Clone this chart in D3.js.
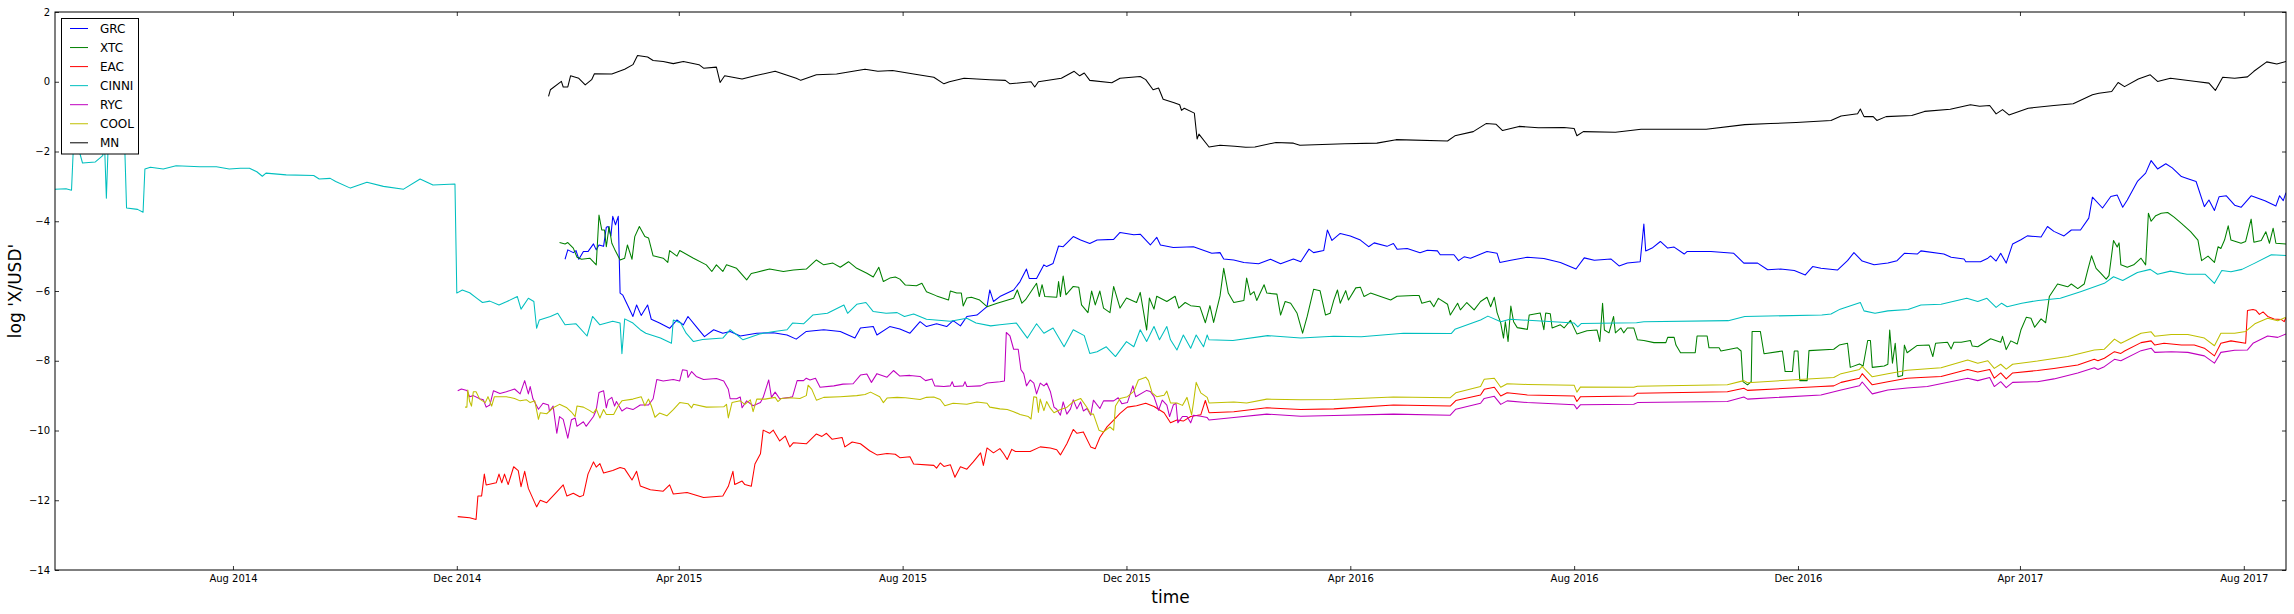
<!DOCTYPE html>
<html><head><meta charset="utf-8">
<script src="https://cdn.jsdelivr.net/npm/d3@7"></script>
<style>
body{margin:0;background:#fff}
svg{display:block}
text{font-family:"DejaVu Sans",sans-serif;fill:#000}
</style>
</head><body>
<svg id="chart" width="2294" height="614"></svg>
<script>
// ---- data: [days since baseDate, log value] ----
const baseDate = "2014-08-01";
const seriesNames = ["GRC","XTC","EAC","CINNI","RYC","COOL","MN"];
const seriesColors = ["#0000ff","#008000","#ff0000","#00bfbf","#bf00bf","#bfbf00","#000000"];
const yTicks = [2,0,-2,-4,-6,-8,-10,-12,-14];
const xTickLabels = ["Aug 2014","Dec 2014","Apr 2015","Aug 2015","Dec 2015","Apr 2016","Aug 2016","Dec 2016","Apr 2017","Aug 2017"];

const grc = [[181,-5.09],[182.5,-4.82],[185.5,-4.9],[187,-4.84],[188.5,-5.09],[191,-4.87],[193.5,-4.87],[196.5,-4.65],[198,-4.82],[199.5,-4.68],[202,-4.72],[203.5,-4.17],[204.5,-4.15],[206,-4.42],[207,-3.86],[208.5,-4.1],[210,-3.86],[211,-6.06],[212.5,-6.12],[215.5,-6.45],[218,-6.73],[220,-6.4],[222.5,-6.7],[226,-6.4],[228,-6.81],[232.5,-6.92],[238,-7.07],[242,-6.83],[245.5,-6.97],[248,-6.73],[252.5,-7.02],[257,-7.31],[262,-7.11],[267,-7.21],[271,-7.16],[276.5,-7.29],[285.5,-7.21],[294.5,-7.2],[302,-7.26],[307,-7.38],[312.5,-7.16],[322,-7.11],[331,-7.16],[339,-7.35],[342,-7.06],[349,-7.02],[351,-7.26],[358,-7.02],[363.5,-7.09],[369,-7.21],[374.5,-6.88],[378,-7.02],[383.5,-6.94],[389,-7.02],[392.5,-6.85],[396.5,-7.0],[400,-6.73],[405.5,-6.69],[411,-6.45],[412.5,-5.97],[414.5,-6.3],[418,-6.16],[425.5,-5.97],[429,-5.73],[432.5,-5.37],[434,-5.64],[438,-5.64],[442,-5.25],[443.5,-5.3],[447,-5.21],[450,-4.71],[452.5,-4.73],[458,-4.44],[462,-4.54],[467,-4.64],[471,-4.54],[480,-4.52],[483.5,-4.32],[491,-4.39],[494.5,-4.37],[500,-4.68],[503.5,-4.46],[505.5,-4.68],[512.5,-4.75],[523.5,-4.73],[533.5,-4.92],[538,-4.9],[540,-5.08],[545.5,-5.11],[551,-5.18],[559,-5.22],[565.5,-5.09],[571,-5.22],[578,-5.08],[582,-5.16],[586.5,-4.80],[589,-4.9],[594.5,-4.84],[596.5,-4.25],[599,-4.55],[603.5,-4.35],[609,-4.42],[614.5,-4.54],[619,-4.73],[622,-4.62],[629,-4.72],[632.5,-4.64],[634.5,-4.80],[640,-4.78],[647,-4.9],[651,-4.83],[656.5,-4.85],[658,-4.96],[665.5,-4.96],[668,-5.13],[671,-5.02],[674.5,-5.06],[683.5,-4.87],[689,-4.92],[690.5,-5.18],[696.5,-5.12],[705.5,-5.03],[714.5,-5.07],[723.5,-5.18],[732,-5.37],[736.5,-5.05],[742,-5.12],[751,-5.08],[755.5,-5.28],[760,-5.2],[767,-5.16],[769,-4.08],[770,-4.85],[773.5,-4.77],[778,-4.58],[782,-4.77],[785.5,-4.74],[791,-4.94],[792.5,-4.87],[805.5,-4.87],[818,-4.92],[823.5,-5.2],[831,-5.2],[836.5,-5.39],[843.5,-5.37],[851,-5.41],[857,-5.54],[861,-5.3],[865.5,-5.35],[874.5,-5.4],[880,-5.13],[883.5,-4.9],[888,-5.14],[894.5,-5.25],[902,-5.2],[907,-5.13],[911,-4.92],[918,-4.94],[920,-4.85],[932.5,-4.94],[936.5,-5.03],[943.5,-5.08],[944.5,-5.16],[952.5,-5.16],[956.5,-5.06],[958,-4.99],[961,-5.14],[963.5,-4.92],[966.5,-5.2],[970,-4.65],[974.5,-4.53],[978,-4.42],[985.5,-4.45],[989,-4.15],[992.5,-4.29],[998,-4.42],[1002,-4.25],[1007,-4.25],[1011.5,-3.91],[1013.5,-3.31],[1019,-3.62],[1023.5,-3.29],[1027,-3.25],[1030,-3.6],[1032.5,-3.39],[1038,-2.86],[1042.5,-2.62],[1045.5,-2.26],[1049,-2.5],[1053.5,-2.35],[1057,-2.47],[1062,-2.72],[1065.5,-2.78],[1070,-2.86],[1074.5,-3.58],[1077,-3.39],[1080,-3.69],[1082.5,-3.3],[1086.5,-3.27],[1091,-3.54],[1094.5,-3.6],[1100,-3.27],[1107.5,-3.41],[1113.5,-3.56],[1115.5,-3.27],[1117.5,-3.41],[1119,-3.18]];

const xtc = [[178,-4.61],[181,-4.65],[182.5,-4.61],[185.5,-4.77],[187.5,-5.03],[190,-5.09],[194.5,-5.06],[198,-5.25],[199.5,-3.82],[201,-4.25],[202.5,-4.25],[203.5,-4.73],[205,-4.15],[206.5,-4.63],[208,-4.8],[211,-5.11],[213.5,-5.06],[215,-4.68],[217.5,-5.09],[219,-4.44],[221.5,-4.15],[224.5,-4.44],[226.5,-4.48],[229,-4.99],[234.5,-5.06],[237,-5.18],[238,-4.84],[242,-5.0],[243.5,-4.84],[251,-5.06],[258,-5.25],[261,-5.44],[263.5,-5.25],[267,-5.44],[269,-5.25],[274.5,-5.35],[280,-5.68],[282.5,-5.5],[285.5,-5.46],[292.5,-5.37],[300,-5.44],[305.5,-5.4],[312.5,-5.37],[318,-5.11],[322,-5.25],[327,-5.2],[331,-5.32],[335.5,-5.16],[340,-5.35],[345.5,-5.49],[349,-5.6],[352,-5.32],[354.5,-5.73],[358,-5.63],[361,-5.6],[363.5,-5.66],[366.5,-5.83],[372.5,-5.85],[375.5,-5.78],[378,-6.02],[383.5,-6.14],[390,-6.26],[391,-6.0],[394.5,-6.06],[397,-6.06],[398,-6.43],[400,-6.2],[402.5,-6.18],[407,-6.26],[411,-6.45],[416.5,-6.35],[425.5,-6.21],[427.5,-5.97],[430,-6.35],[432,-6.25],[438,-5.78],[439.5,-6.16],[441,-5.82],[442.5,-6.16],[449,-6.18],[450,-5.73],[451,-6.16],[452.5,-5.57],[454,-6.11],[458,-5.87],[461,-5.89],[462.5,-6.4],[466,-6.62],[468,-6.0],[470,-6.4],[472.5,-6.0],[474.5,-6.49],[478,-6.62],[480,-5.87],[483.5,-6.49],[487,-6.2],[492.5,-6.33],[494.5,-6.04],[498,-7.12],[499.5,-6.2],[502,-6.52],[503.5,-6.15],[509,-6.3],[513.5,-6.15],[515.5,-6.49],[519,-6.33],[522,-6.42],[527,-6.45],[530,-6.91],[532.5,-6.42],[534.5,-6.9],[538,-6.14],[540,-5.35],[542.5,-6.06],[545.5,-6.33],[551,-6.27],[552.5,-5.63],[554.5,-6.11],[556.5,-6.02],[558,-6.27],[562,-5.82],[563.5,-6.06],[569,-6.09],[571,-6.69],[573.5,-6.3],[576.5,-6.35],[580,-6.64],[583,-7.21],[585.5,-6.73],[589,-5.95],[592.5,-5.99],[595.5,-6.69],[598,-6.64],[600,-6.26],[602,-5.97],[603.5,-6.35],[606.5,-5.99],[608,-6.26],[612,-5.91],[614.5,-5.89],[616.5,-6.16],[620,-6.06],[625.5,-6.16],[631,-6.26],[634.5,-6.15],[643.5,-6.13],[646.5,-6.13],[648,-6.35],[652.5,-6.29],[654.5,-6.45],[657,-6.21],[662,-6.38],[663.5,-6.69],[667.5,-6.35],[669,-6.54],[672.5,-6.33],[676.5,-6.54],[680,-6.3],[683.5,-6.18],[685.5,-6.45],[687.5,-6.18],[689,-6.62],[691,-6.92],[692.5,-7.35],[693.5,-6.88],[695,-7.45],[696.5,-6.43],[698,-6.88],[700,-7.05],[705.5,-7.1],[706.5,-6.69],[712.5,-6.63],[714.5,-7.11],[715.5,-6.63],[718,-6.65],[719,-7.06],[723.5,-6.97],[725.5,-7.06],[729,-6.84],[732.5,-7.23],[738,-7.14],[743.5,-7.12],[745,-7.45],[746.5,-6.35],[747.5,-7.12],[750,-7.2],[752.5,-6.73],[753.5,-7.2],[756.5,-7.06],[758,-7.2],[760,-7.06],[763.5,-7.06],[765.5,-7.4],[769,-7.42],[774.5,-7.48],[781,-7.48],[782,-7.33],[785.5,-7.33],[786.5,-7.55],[789,-7.77],[797,-7.77],[798,-7.29],[803.5,-7.29],[804.5,-7.63],[810,-7.63],[811,-7.72],[820,-7.63],[822,-7.72],[823,-8.6],[825.5,-8.69],[827.5,-8.6],[828,-7.16],[832.5,-7.16],[834.5,-7.8],[844.5,-7.72],[846,-8.31],[850,-8.31],[851,-7.72],[853,-7.72],[854,-8.57],[858,-8.57],[859,-7.71],[872.5,-7.67],[875.5,-7.55],[880,-7.5],[881.5,-8.19],[886.5,-8.09],[888.5,-8.15],[891,-7.42],[892.5,-7.42],[893.5,-8.19],[900,-8.15],[902,-8.1],[903,-7.12],[904.5,-8.07],[906,-7.5],[907.5,-8.46],[910,-8.42],[911,-7.55],[912.5,-7.77],[918,-7.56],[924.5,-7.55],[926.5,-7.88],[928,-7.5],[934.5,-7.47],[936.5,-7.66],[938,-7.47],[942,-7.47],[947,-7.42],[948,-7.58],[951,-7.6],[956.5,-7.42],[958,-7.37],[963.5,-7.47],[964.5,-7.3],[966.5,-7.68],[969,-7.43],[972.5,-7.52],[974.5,-7.12],[977.5,-6.75],[980,-6.78],[982,-7.04],[985.5,-6.8],[988,-6.91],[990,-6.16],[994.5,-5.8],[1000,-5.88],[1002,-5.8],[1005.5,-5.93],[1009,-5.8],[1011,-5.39],[1013,-4.99],[1015.5,-5.35],[1018,-5.49],[1021,-5.66],[1022.5,-5.56],[1025,-4.55],[1027,-4.74],[1028,-4.62],[1029,-5.25],[1032.5,-5.32],[1036,-5.25],[1040,-5.06],[1042.5,-5.25],[1044,-3.77],[1045.5,-4.0],[1048,-3.84],[1051,-3.77],[1054.5,-3.75],[1058,-3.88],[1062,-4.06],[1067,-4.3],[1071,-4.54],[1073,-5.13],[1076.5,-5.0],[1080,-5.18],[1082,-4.73],[1083.5,-4.78],[1085.5,-4.54],[1087.5,-4.13],[1089,-4.54],[1094.5,-4.63],[1097,-4.58],[1100,-3.94],[1101.5,-4.6],[1105.5,-4.55],[1108,-4.3],[1110,-4.63],[1112,-4.2],[1113.5,-4.63],[1119,-4.65]];

const eac = [[122.5,-12.47],[129,-12.5],[132.5,-12.55],[133.5,-11.88],[135.5,-11.88],[137,-11.25],[138,-11.56],[143.5,-11.5],[145,-11.25],[146.5,-11.5],[148,-11.25],[150,-11.55],[153,-11.04],[155.5,-11.15],[157,-11.61],[159,-11.17],[161,-11.66],[165.5,-12.19],[167.5,-12.0],[171,-12.07],[176.5,-11.76],[180,-11.56],[182,-11.88],[185.5,-11.8],[189,-11.9],[191,-11.86],[193.5,-11.25],[196.5,-10.9],[198,-11.05],[200,-10.95],[202,-11.22],[207,-11.15],[211,-11.06],[213.5,-11.1],[217.5,-11.42],[220,-11.17],[222,-11.59],[227.5,-11.7],[234.5,-11.74],[238,-11.56],[240,-11.82],[247.5,-11.78],[256.5,-11.92],[267,-11.88],[270,-11.6],[272.5,-11.17],[273.5,-11.55],[277.5,-11.45],[279,-11.55],[282.5,-11.6],[284.5,-10.96],[287.5,-10.67],[289,-9.99],[292.5,-10.08],[294.5,-9.99],[298,-10.3],[301,-10.16],[303.5,-10.47],[305.5,-10.35],[312.5,-10.38],[318,-10.1],[321,-10.17],[323.5,-10.08],[326.5,-10.25],[332,-10.2],[333.5,-10.47],[337.5,-10.33],[342,-10.38],[347,-10.58],[351,-10.7],[356.5,-10.66],[361,-10.68],[363.5,-10.78],[369,-10.75],[371,-10.96],[382,-11.0],[383.5,-11.08],[385.5,-10.93],[387.5,-11.03],[391,-10.98],[393.5,-11.34],[396.5,-11.04],[400,-11.11],[403.5,-10.9],[407.5,-10.64],[409,-11.0],[411,-10.5],[414.5,-10.64],[418,-10.52],[420,-10.66],[422,-10.83],[424.5,-10.54],[426.5,-10.6],[434.5,-10.6],[440,-10.47],[445.5,-10.5],[449,-10.55],[451,-10.7],[454.5,-10.38],[458,-9.97],[460,-10.08],[463.5,-10.04],[467.5,-10.47],[470,-10.52],[472.5,-10.2],[476.5,-9.89],[480,-9.70],[483.5,-9.51],[487.5,-9.33],[492.5,-9.29],[497.5,-9.22],[502,-9.31],[507.5,-9.49],[511,-9.78],[514.5,-9.7],[518,-9.73],[522,-9.6],[527.5,-9.55],[530,-9.14],[532,-9.49],[545.5,-9.46],[563.5,-9.35],[582,-9.4],[600,-9.38],[632.5,-9.27],[663.5,-9.3],[666.5,-9.14],[680,-8.98],[682,-8.82],[687.5,-8.76],[691,-9.01],[694.5,-8.92],[705.5,-8.98],[731,-9.01],[732.5,-9.17],[734.5,-9.03],[763.5,-9.01],[765.5,-8.93],[814.5,-8.89],[823.5,-8.79],[825.5,-8.85],[865.5,-8.74],[872.5,-8.72],[876.5,-8.62],[886.5,-8.5],[888,-8.37],[893.5,-8.69],[902,-8.6],[912.5,-8.5],[920,-8.48],[931,-8.45],[945.5,-8.25],[951,-8.32],[957.5,-8.25],[960,-8.5],[963.5,-8.35],[966.5,-8.52],[970,-8.35],[983.5,-8.28],[992.5,-8.22],[1005.5,-8.12],[1014.5,-7.96],[1016.5,-8.0],[1020,-7.93],[1025.5,-7.74],[1029,-7.79],[1031,-7.72],[1040,-7.48],[1045.5,-7.43],[1047.5,-7.55],[1052.5,-7.5],[1062,-7.55],[1069,-7.55],[1074.5,-7.64],[1080,-7.86],[1083.5,-7.5],[1089,-7.43],[1097,-7.5],[1098,-6.56],[1101,-6.53],[1102.5,-6.55],[1104.5,-6.67],[1106.5,-6.6],[1109,-6.73],[1112.5,-6.8],[1116.5,-6.82],[1118,-6.88],[1119,-6.76]];

const cinni = [[-97,-3.08],[-91,-3.07],[-88,-3.11],[-87,-1.9],[-84,-1.95],[-82,-2.33],[-75,-2.30],[-71,-2.12],[-70,-1.8],[-69,-3.34],[-68,-1.8],[-59,-1.85],[-58,-3.62],[-52,-3.66],[-49,-3.74],[-48,-2.5],[-45,-2.45],[-38,-2.5],[-31,-2.41],[-18,-2.44],[-9,-2.44],[-2,-2.5],[4,-2.48],[9,-2.48],[13,-2.58],[16,-2.71],[18,-2.62],[29,-2.67],[44,-2.69],[47,-2.79],[53,-2.77],[56,-2.86],[64,-3.05],[73,-2.88],[82,-3.0],[93,-3.08],[102,-2.79],[109,-2.96],[121,-2.93],[122,-6.06],[125,-5.97],[129,-6.05],[133,-6.21],[136,-6.33],[140,-6.29],[145,-6.4],[149,-6.31],[155,-6.16],[157,-6.52],[161,-6.21],[164,-6.3],[165.5,-7.07],[167,-6.83],[173,-6.73],[177,-6.64],[181,-6.97],[187,-6.94],[193,-7.29],[196,-6.73],[200,-6.97],[207,-6.87],[211,-6.92],[212,-7.8],[213.5,-6.8],[218,-6.92],[222,-7.11],[225,-7.21],[233,-7.35],[239,-7.5],[240,-6.83],[244,-6.92],[247,-7.21],[251,-7.45],[256,-7.39],[267,-7.35],[271,-7.11],[278,-7.4],[287,-7.23],[295,-7.16],[302,-7.11],[305,-6.92],[311,-6.94],[316,-6.69],[324,-6.64],[333,-6.4],[335,-6.64],[340,-6.38],[345,-6.33],[349,-6.59],[356,-6.64],[362,-6.62],[366,-6.73],[371,-6.66],[378,-6.81],[391,-6.87],[400,-6.78],[405,-6.92],[413,-7.0],[418,-6.97],[427,-6.92],[433,-7.35],[438,-6.94],[442,-7.21],[447,-7.06],[453,-7.6],[458,-7.11],[464,-7.28],[467,-7.79],[471,-7.74],[476,-7.6],[481,-7.88],[487,-7.45],[491,-7.6],[494.5,-7.11],[498,-7.45],[502,-7.02],[505,-7.4],[509,-7.02],[511,-7.4],[514.5,-7.69],[518,-7.26],[522,-7.64],[525,-7.26],[529,-7.6],[531,-7.26],[532,-7.4],[545,-7.42],[564,-7.28],[582,-7.35],[600,-7.3],[615,-7.31],[638,-7.21],[664,-7.22],[666,-7.1],[680,-6.83],[684,-6.72],[691,-6.88],[696,-6.81],[731,-6.92],[733,-7.03],[735,-6.93],[765,-6.91],[769,-6.88],[815,-6.85],[824,-6.73],[866,-6.69],[871,-6.66],[876,-6.52],[887,-6.33],[889,-6.57],[895,-6.64],[902,-6.57],[913,-6.53],[920,-6.4],[931,-6.38],[945,-6.21],[951,-6.3],[956,-6.21],[961,-6.47],[964,-6.35],[967,-6.45],[975,-6.35],[984,-6.27],[996,-6.21],[1007,-6.02],[1020,-5.78],[1025,-5.59],[1030,-5.7],[1038,-5.47],[1045,-5.38],[1049,-5.52],[1056,-5.43],[1065,-5.52],[1075,-5.52],[1080,-5.78],[1084,-5.41],[1089,-5.45],[1095,-5.38],[1102,-5.2],[1111,-4.96],[1119,-4.98]];

const ryc = [[122.5,-8.86],[124.5,-8.81],[127.5,-8.85],[129,-9.03],[131,-9.0],[134.5,-9.09],[136.5,-9.12],[138,-9.33],[140,-9.27],[142,-8.86],[145.5,-8.94],[149,-8.89],[153.5,-8.81],[156.5,-8.95],[159,-8.57],[161,-8.95],[162,-8.74],[163.5,-9.09],[166.5,-9.39],[169,-9.22],[172,-9.27],[172.5,-9.45],[174.5,-9.3],[176.5,-10.08],[178,-9.6],[180,-9.68],[182.5,-10.22],[184.5,-9.69],[186.5,-9.64],[187.5,-9.88],[191,-9.75],[192.5,-9.88],[196.5,-9.6],[198,-9.41],[199.5,-8.91],[202,-8.86],[203.5,-9.35],[204.5,-9.13],[206.5,-9.05],[208,-9.3],[209,-9.17],[212,-9.44],[214.5,-9.35],[218,-9.4],[222,-9.27],[226.5,-9.27],[229,-9.09],[231,-8.54],[234.5,-8.58],[240,-8.54],[243.5,-8.58],[245,-8.26],[247.5,-8.28],[248,-8.48],[250,-8.31],[252.5,-8.45],[256.5,-8.54],[263.5,-8.51],[267.5,-8.58],[270,-8.82],[271,-9.09],[274.5,-9.09],[276.5,-9.04],[277.5,-9.35],[280,-9.15],[283.5,-9.29],[287.5,-9.2],[289,-9.05],[292,-8.55],[293.5,-9.05],[295.5,-8.9],[298,-9.09],[303.5,-9.05],[305,-9.03],[307.5,-8.57],[311,-8.57],[312.5,-8.5],[314.5,-8.55],[317.5,-8.5],[320,-8.76],[327.5,-8.72],[332.5,-8.67],[338,-8.66],[342,-8.41],[345.5,-8.38],[348,-8.62],[351,-8.37],[356.5,-8.47],[360,-8.28],[363.5,-8.44],[369,-8.42],[374.5,-8.45],[377.5,-8.57],[381,-8.52],[382.5,-8.72],[387.5,-8.74],[391,-8.72],[392,-8.6],[393,-8.74],[398,-8.72],[399,-8.6],[400,-8.74],[407.5,-8.72],[411,-8.64],[418,-8.6],[420.5,-8.58],[421.5,-7.19],[423.5,-7.29],[425.5,-7.67],[428,-7.67],[429.5,-8.26],[431,-8.37],[432.5,-8.72],[434.5,-8.55],[436.5,-8.64],[438,-8.95],[440,-8.64],[442,-8.72],[443.5,-8.64],[445.5,-8.88],[447.5,-9.33],[449,-9.39],[451,-9.56],[452.5,-9.18],[454.5,-9.53],[456.5,-9.38],[458,-9.12],[460,-9.38],[462,-9.18],[463.5,-9.44],[465.5,-9.37],[467.5,-9.56],[469,-9.13],[472.5,-9.37],[474.5,-9.15],[480,-9.15],[482.5,-9.06],[484.5,-9.23],[487.5,-9.2],[490.5,-8.72],[492,-9.03],[498,-8.85],[500,-8.88],[502,-9.03],[504.5,-9.42],[506.5,-9.13],[509,-9.27],[510.5,-9.6],[512.5,-9.27],[514,-9.22],[515,-9.78],[517.5,-9.6],[520,-9.6],[522,-9.78],[523.5,-9.56],[527.5,-9.59],[531,-9.63],[532,-9.7],[545.5,-9.63],[563.5,-9.53],[582,-9.59],[600,-9.57],[632.5,-9.53],[663.5,-9.56],[666.5,-9.39],[680,-9.22],[682,-9.08],[687.5,-9.02],[691,-9.25],[694.5,-9.15],[705.5,-9.2],[731,-9.26],[732.5,-9.38],[734.5,-9.26],[763.5,-9.25],[765.5,-9.2],[814.5,-9.17],[823.5,-9.04],[825.5,-9.1],[865.5,-8.98],[876.5,-8.84],[886.5,-8.72],[888,-8.61],[893.5,-8.95],[902,-8.84],[912.5,-8.78],[923.5,-8.74],[945.5,-8.5],[951,-8.57],[957.5,-8.48],[960,-8.74],[963.5,-8.6],[966.5,-8.77],[970,-8.62],[983.5,-8.6],[992.5,-8.52],[1005.5,-8.35],[1014.5,-8.2],[1016.5,-8.25],[1020,-8.17],[1025.5,-7.96],[1029,-8.0],[1040,-7.71],[1045.5,-7.64],[1047.5,-7.76],[1056.5,-7.74],[1065.5,-7.76],[1074.5,-7.86],[1080,-8.07],[1083.5,-7.76],[1091,-7.7],[1098,-7.69],[1101,-7.5],[1109,-7.29],[1114.5,-7.33],[1119,-7.23]];

const cool = [[126.5,-9.33],[127.5,-9.33],[128,-8.84],[129,-9.17],[130,-9.3],[131,-8.89],[132.5,-8.89],[134.5,-9.1],[137.5,-9.2],[139,-9.03],[141,-9.3],[142.5,-9.03],[149,-9.03],[153.5,-9.08],[156.5,-9.15],[160,-9.12],[162,-9.2],[164.5,-9.15],[166.5,-9.68],[167.5,-9.49],[171,-9.52],[174.5,-9.35],[178,-9.25],[182,-9.35],[184.5,-9.47],[186.5,-9.6],[187.5,-9.3],[191,-9.33],[194.5,-9.43],[196.5,-9.5],[198,-9.38],[200,-9.64],[202,-9.4],[203.5,-9.54],[207.5,-9.54],[210,-9.29],[212,-9.15],[218,-9.1],[222.5,-9.03],[224.5,-9.29],[226.5,-9.1],[228,-9.29],[230,-9.62],[232.5,-9.5],[236.5,-9.58],[240,-9.4],[243.5,-9.2],[248,-9.23],[250,-9.35],[251,-9.25],[258,-9.33],[267.5,-9.32],[269,-9.25],[270,-9.64],[272,-9.2],[276.5,-9.15],[279,-9.25],[282,-9.12],[283.5,-9.46],[285.5,-9.1],[290,-9.1],[295.5,-9.05],[297,-9.17],[299,-9.08],[303.5,-9.06],[309,-9.08],[312.5,-9.0],[313.5,-8.7],[315.5,-8.82],[318,-9.13],[322,-9.05],[331,-9.03],[340,-9.0],[344.5,-8.97],[347.5,-8.9],[352.5,-9.03],[354.5,-9.2],[356.5,-9.07],[362,-9.05],[366.5,-9.06],[374.5,-9.11],[378,-9.05],[382,-9.04],[385.5,-9.11],[388,-9.29],[392.5,-9.22],[400,-9.25],[405.5,-9.18],[411,-9.22],[412.5,-9.33],[418,-9.38],[422,-9.4],[425.5,-9.46],[429,-9.54],[433.5,-9.6],[435,-9.67],[436.5,-9.03],[438,-9.05],[439,-9.48],[440,-9.1],[442,-9.43],[443.5,-9.17],[445.5,-9.36],[447.5,-9.49],[451,-9.4],[454.5,-9.34],[458,-9.17],[462,-9.08],[465.5,-9.34],[467.5,-9.53],[469,-9.53],[472,-9.99],[474.5,-10.04],[478,-9.9],[480,-9.99],[481,-9.3],[483.5,-9.08],[487.5,-9.03],[491,-8.88],[493.5,-8.55],[497.5,-8.47],[499,-8.57],[501,-8.92],[503.5,-9.03],[507.5,-8.99],[509,-8.87],[511,-9.21],[514.5,-9.21],[517.5,-9.28],[520,-9.05],[522.5,-9.55],[523.5,-9.21],[525,-8.62],[527.5,-8.92],[531,-9.05],[532,-9.21],[545.5,-9.18],[552.5,-9.21],[563.5,-9.1],[582,-9.12],[600,-9.11],[632.5,-9.04],[663.5,-9.06],[666.5,-8.92],[680,-8.74],[682,-8.53],[687.5,-8.5],[691,-8.76],[694.5,-8.66],[705.5,-8.68],[731,-8.7],[732.5,-8.9],[734.5,-8.75],[763.5,-8.76],[765.5,-8.73],[814.5,-8.69],[823.5,-8.57],[825.5,-8.63],[865.5,-8.5],[872.5,-8.48],[876.5,-8.37],[886.5,-8.25],[888,-8.16],[893.5,-8.46],[902,-8.37],[912.5,-8.27],[931,-8.2],[945.5,-7.98],[951,-8.07],[956.5,-8.0],[960,-8.22],[963.5,-8.1],[966.5,-8.24],[970,-8.1],[983.5,-8.01],[1000,-7.88],[1014.5,-7.69],[1020,-7.67],[1025.5,-7.38],[1029,-7.5],[1031,-7.45],[1040,-7.21],[1045.5,-7.17],[1047.5,-7.3],[1056.5,-7.25],[1065.5,-7.25],[1074.5,-7.35],[1080,-7.57],[1083.5,-7.21],[1091,-7.21],[1097,-7.16],[1102,-6.94],[1109,-6.78],[1114.5,-6.85],[1119,-6.75]];

const mn = [[172,-0.42],[173,-0.23],[179,0.01],[180,-0.15],[182.5,-0.15],[184,0.17],[188.5,0.10],[192,-0.09],[195.5,0.06],[197,0.23],[206.5,0.22],[213.5,0.36],[218,0.49],[220.5,0.75],[226,0.71],[229,0.61],[234.5,0.58],[240,0.52],[245.5,0.58],[254,0.49],[256.5,0.39],[263.5,0.42],[265.5,-0.02],[268,0.17],[277.5,0.08],[284.5,0.17],[295.5,0.3],[307,0.1],[309.5,0.04],[318,0.2],[329,0.22],[344.5,0.36],[351.5,0.3],[359.5,0.32],[371,0.22],[382,0.13],[387.5,-0.06],[390.5,0.0],[398.5,0.1],[412.5,0.06],[421,0.04],[423.5,-0.06],[435,0.0],[437,-0.15],[439,0.0],[451.5,0.1],[458.5,0.3],[461.5,0.17],[464,0.25],[467,0.04],[479,-0.03],[483.5,0.1],[494.5,0.15],[497.5,0.06],[501.5,-0.23],[504.5,-0.18],[507,-0.5],[513,-0.6],[516,-0.66],[517,-0.82],[518.5,-0.76],[524,-0.9],[525.5,-1.64],[526.5,-1.5],[532,-1.87],[538,-1.82],[546,-1.85],[552,-1.88],[557,-1.87],[568.5,-1.74],[578,-1.76],[581.5,-1.82],[606,-1.78],[623.5,-1.76],[634,-1.66],[662,-1.7],[666,-1.55],[676,-1.43],[683,-1.2],[688.5,-1.22],[692,-1.4],[701,-1.28],[711.5,-1.32],[725.5,-1.31],[731,-1.34],[732.5,-1.55],[736,-1.43],[753.5,-1.45],[767.5,-1.36],[803,-1.36],[824,-1.23],[838,-1.2],[852,-1.17],[871,-1.11],[876.5,-0.98],[885.5,-0.92],[887,-0.78],[889,-1.0],[894,-1.0],[896,-1.11],[901,-1.0],[915,-0.97],[922,-0.85],[936,-0.79],[947,-0.66],[952,-0.7],[957.5,-0.68],[961,-0.92],[964.5,-0.8],[968,-0.95],[978.5,-0.76],[992.5,-0.68],[1003,-0.63],[1013.5,-0.37],[1017,-0.33],[1024,-0.28],[1027.5,-0.02],[1031,-0.14],[1038.5,0.08],[1045,0.2],[1049,0.01],[1056,0.1],[1070,0.01],[1077,-0.04],[1080.5,-0.25],[1084.5,0.13],[1091,0.1],[1098,0.14],[1101.5,0.3],[1108.5,0.57],[1114,0.51],[1119,0.58]];

const seriesData = [grc, xtc, eac, cinni, ryc, cool, mn];

// ---- drawing ----
const W = 2294, H = 614;
const plot = {left: 55, top: 12, right: 2286, bottom: 570};
const base = d3.timeParse("%Y-%m-%d")(baseDate);
const toDate = d => new Date(base.getTime() + d * 864e5);

const allDays = seriesData.flat().map(p => p[0]);
const x = d3.scaleTime()
  .domain([toDate(d3.min(allDays)), toDate(d3.max(allDays))])
  .range([plot.left, plot.right]);
const y = d3.scaleLinear().domain([-14, 2]).range([plot.bottom, plot.top]);

const svg = d3.select("#chart");
svg.append("rect").attr("width", W).attr("height", H).attr("fill", "#fff");

svg.append("clipPath").attr("id", "clip").append("rect")
  .attr("x", plot.left).attr("y", plot.top)
  .attr("width", plot.right - plot.left).attr("height", plot.bottom - plot.top);

const line = d3.line().x(p => x(toDate(p[0]))).y(p => y(p[1]));
const gLines = svg.append("g").attr("clip-path", "url(#clip)");
seriesData.forEach((s, i) => {
  gLines.append("path").datum(s)
    .attr("d", line)
    .attr("fill", "none")
    .attr("stroke", seriesColors[i])
    .attr("stroke-width", 1.05)
    .attr("stroke-linejoin", "round");
});

// axes
const parseTick = d3.timeParse("%b %Y");
const xTickDates = xTickLabels.map(parseTick);
const fmtX = d3.timeFormat("%b %Y");

const axB = svg.append("g").attr("transform", `translate(0,${plot.bottom})`)
  .call(d3.axisBottom(x).tickValues(xTickDates).tickFormat(fmtX).tickSizeInner(-4).tickSizeOuter(0).tickPadding(5));
const axT = svg.append("g").attr("transform", `translate(0,${plot.top})`)
  .call(d3.axisTop(x).tickValues(xTickDates).tickFormat("").tickSizeInner(-4).tickSizeOuter(0));
const axL = svg.append("g").attr("transform", `translate(${plot.left},0)`)
  .call(d3.axisLeft(y).tickValues(yTicks).tickFormat(d3.format("d")).tickSizeInner(-4).tickSizeOuter(0).tickPadding(5));
const axR = svg.append("g").attr("transform", `translate(${plot.right},0)`)
  .call(d3.axisRight(y).tickValues(yTicks).tickFormat("").tickSizeInner(-4).tickSizeOuter(0));
[axB, axT, axL, axR].forEach(g => {
  g.select(".domain").remove();
  g.selectAll(".tick line").attr("stroke", "#000").attr("stroke-width", 0.8);
  g.selectAll(".tick text").attr("font-family", "DejaVu Sans").attr("font-size", 10).attr("fill", "#000");
});

// frame
svg.append("rect")
  .attr("x", plot.left).attr("y", plot.top)
  .attr("width", plot.right - plot.left).attr("height", plot.bottom - plot.top)
  .attr("fill", "none").attr("stroke", "#000").attr("stroke-width", 1);

// axis labels
svg.append("text").attr("x", (plot.left + plot.right) / 2).attr("y", 603)
  .attr("text-anchor", "middle").attr("font-size", 17).text("time");
svg.append("text").attr("transform", `translate(20.5,${(plot.top + plot.bottom) / 2}) rotate(-90)`)
  .attr("text-anchor", "middle").attr("font-size", 17).text("log 'X/USD'");

// legend
const lg = svg.append("g");
lg.append("rect").attr("x", 61.5).attr("y", 18.5).attr("width", 77).attr("height", 135.5)
  .attr("fill", "#fff").attr("stroke", "#000").attr("stroke-width", 1);
seriesNames.forEach((n, i) => {
  const cy = 28.5 + i * 19.05;
  lg.append("line").attr("x1", 70).attr("x2", 88).attr("y1", cy).attr("y2", cy)
    .attr("stroke", seriesColors[i]).attr("stroke-width", 1);
  lg.append("text").attr("x", 100).attr("y", cy).attr("dy", "0.36em")
    .attr("font-size", 12).text(n);
});
</script>
</body></html>
